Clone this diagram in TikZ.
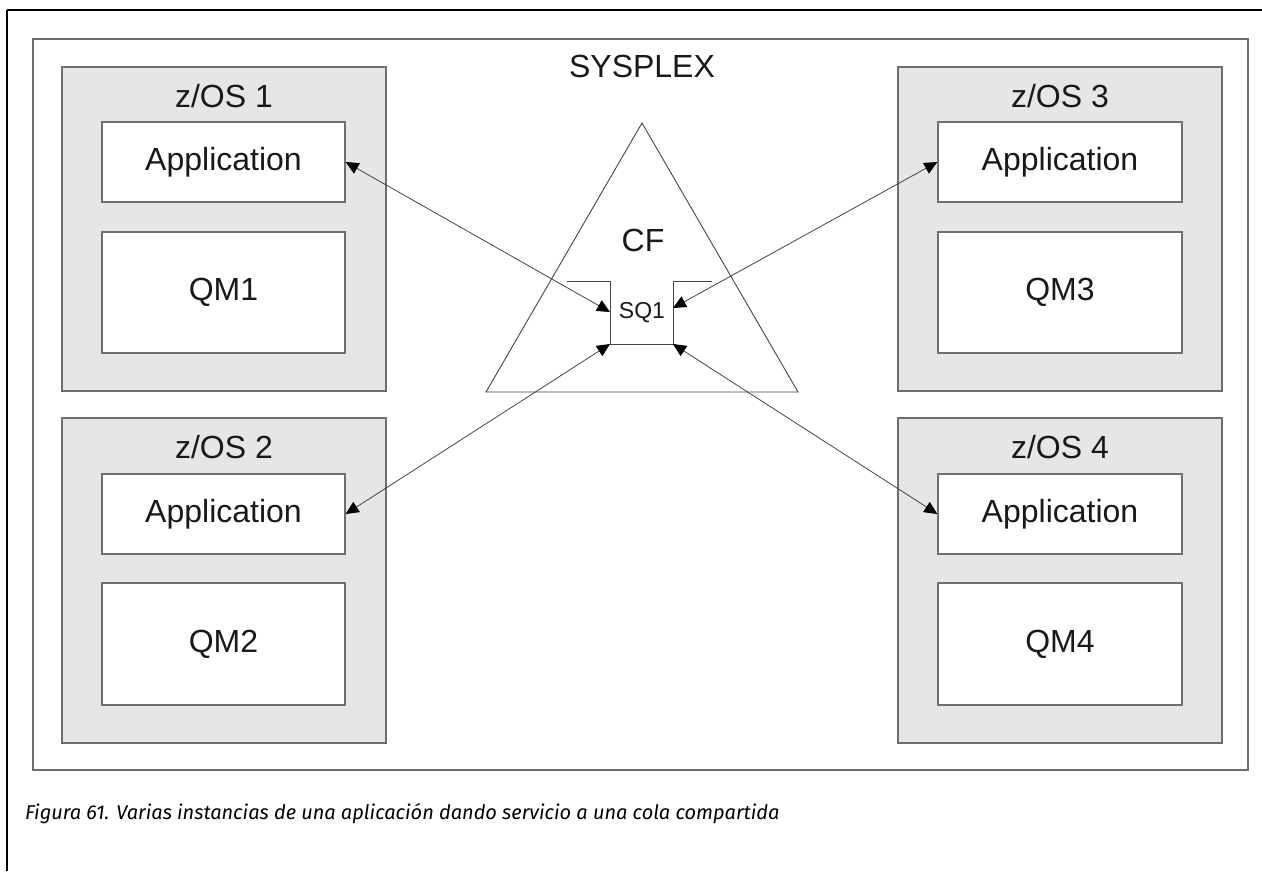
\documentclass[tikz,border=0pt]{standalone}
\usepackage{fontspec}
\setmainfont{Liberation Sans}
\newfontfamily\capfont{Fira Sans}
\usetikzlibrary{arrows.meta}
\definecolor{boxgray}{HTML}{E6E6E6}
\definecolor{edgegray}{HTML}{6E6E6E}
\definecolor{linegray}{HTML}{454545}
\begin{document}
\begin{tikzpicture}[x=1pt,y=-1pt,
  osbox/.style={draw=edgegray,line width=1.3pt,fill=boxgray},
  inbox/.style={draw=edgegray,line width=1.3pt,fill=white,text=black!90,font=\fontsize{32}{36}\selectfont},
  lbl/.style={inner sep=0pt,text=black!90,font=\fontsize{32}{36}\selectfont},
  conn/.style={draw=linegray,line width=0.8pt,{Triangle[length=13pt,width=12pt,color=black]}-{Triangle[length=13pt,width=12pt,color=black]}}
]
\useasboundingbox (0,0) rectangle (1262,871);
\fill[white] (0,0) rectangle (1262,871);
% outer frame lines
\draw[black,line width=2.2pt] (7,10) -- (1262,10);
\draw[black,line width=2.2pt] (7,10) -- (7,871);
% sysplex
\draw[draw=edgegray,line width=1.3pt] (33,39) rectangle (1248,770);
\node[lbl] (sysplex) at (642,66) {SYSPLEX};
% z/OS boxes
\draw[osbox] (62,67) rectangle (386,391);
\draw[osbox] (62,418) rectangle (386,743);
\draw[osbox] (898,67) rectangle (1222,391);
\draw[osbox] (898,418) rectangle (1222,743);
\node[lbl] (os1) at (224,96) {z/OS 1};
\node[lbl] (os2) at (224,447) {z/OS 2};
\node[lbl] (os3) at (1060,96) {z/OS 3};
\node[lbl] (os4) at (1060,447) {z/OS 4};
% inner boxes
\node[inbox,minimum width=243pt,minimum height=80pt] (app1) at (223.5,162) {Application};
\node[inbox,minimum width=243pt,minimum height=121pt] (qm1) at (223.5,292.5) {QM1};
\node[inbox,minimum width=243pt,minimum height=80pt] (app2) at (223.5,514) {Application};
\node[inbox,minimum width=243pt,minimum height=122pt] (qm2) at (223.5,644) {QM2};
\node[inbox,minimum width=244pt,minimum height=80pt] (app3) at (1060,162) {Application};
\node[inbox,minimum width=244pt,minimum height=121pt] (qm3) at (1060,292.5) {QM3};
\node[inbox,minimum width=244pt,minimum height=80pt] (app4) at (1060,514) {Application};
\node[inbox,minimum width=244pt,minimum height=122pt] (qm4) at (1060,644) {QM4};
% CF triangle
\draw[draw=linegray,line width=0.9pt] (642,123) -- (486,392) -- (798,392) -- cycle;
\node[lbl] (cf) at (643,240) {CF};
% SQ1 queue bracket
\draw[draw=linegray,line width=1pt] (567,281) -- (610,281) -- (610,344) -- (673,344) -- (673,281) -- (712,281);
\node[inner sep=0pt,text=black!90,font=\fontsize{23}{26}\selectfont] (sq1) at (642,313) {SQ1};
\coordinate (sqL) at (610,312);
\coordinate (sqR) at (673,308);
\coordinate (sqBL) at (610,344);
\coordinate (sqBR) at (673,344);
% connectors
\draw[conn] (app1.east) -- (sqL);
\draw[conn] (app3.west) -- (sqR);
\draw[conn] (app2.east) -- (sqBL);
\draw[conn] (app4.west) -- (sqBR);
% caption
\node[anchor=west,inner sep=0pt,font=\capfont\itshape\fontsize{20}{24}\selectfont] (caption) at (25,814) {Figura 61. Varias instancias de una aplicación dando servicio a una cola compartida};
\end{tikzpicture}
\end{document}
